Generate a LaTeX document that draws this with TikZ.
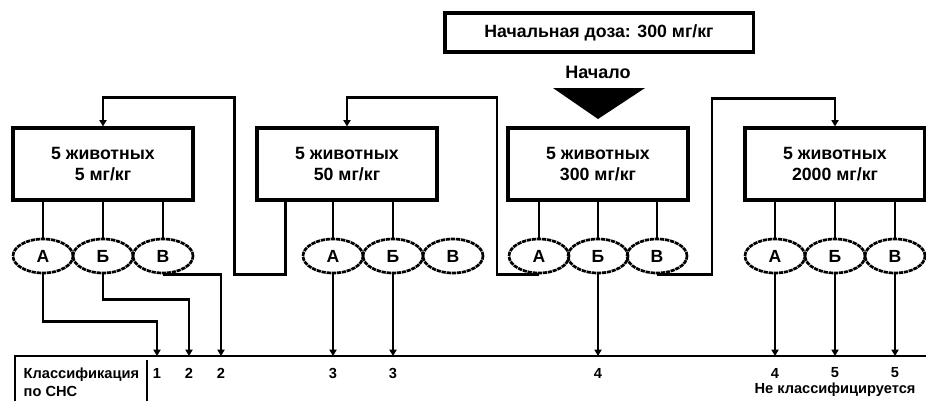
\documentclass[tikz,border=0pt]{standalone}
\usepackage{fontspec}
\setmainfont{Liberation Sans}
\usetikzlibrary{
	shapes.geometric,
	arrows.meta,
	calc
}
\tikzset{
	dosebox/.style={
		draw,
		line width=2.2pt,
		minimum width=4.5cm,
		minimum height=1.8cm,
		align=center,
		font=\bfseries\fontsize{12.6}{15.5}\selectfont
	},
	outcome/.style={
		draw,
		ellipse,
		line width=1.9pt,
		dash pattern=on 3pt off 0.6pt,
		minimum width=1.5cm,
		minimum height=0.85cm,
		inner sep=0pt,
		font=\bfseries\fontsize{12.5}{13}\selectfont
	},
	stalk/.style={
		line width=2.1pt
	},
	flow/.style={
		stalk,
		-{Triangle[length=4.5pt,width=5pt]}
	},
	gradelabel/.style={
		font=\bfseries\fontsize{10.4}{12.8}\selectfont,
		inner sep=1pt
	}
}

\begin{document}
\begin{tikzpicture}[x=0.025cm, y=-0.025cm] %%%% FIXED DOSE SCHEME
	\useasboundingbox (0,0) rectangle (926,401);
	% start
	\node[dosebox, minimum width=7.7cm, minimum height=0.975cm, font=\bfseries\fontsize{12.6}{14}\selectfont] (dose) at (599,32.5) {Начальная доза: 300 мг/кг};
	\node[font=\bfseries\fontsize{12.8}{14}\selectfont] (start) at (598,72) {Начало};
	\fill (553,88) -- (645,88) -- (598,119) -- cycle;
	% dose steps
	\node[dosebox] (d1) at (103,164) {5 животных\\5 мг/кг};
	\node[dosebox] (d2) at (347,164) {5 животных\\50 мг/кг};
	\node[dosebox] (d3) at (598,164) {5 животных\\300 мг/кг};
	\node[dosebox] (d4) at (835,164) {5 животных\\2000 мг/кг};
	\foreach \d/\xa/\xb/\xc in {1/43/103/163, 2/333/393/453, 3/539/598/657, 4/775/835/895} {
		\node[outcome] (o\d-a) at (\xa,256) {А};
		\node[outcome] (o\d-b) at (\xb,256) {Б};
		\node[outcome] (o\d-c) at (\xc,256) {В};
	}
	\foreach \d in {1,3,4} {
		\draw[stalk] (d\d.south -| o\d-a) -- (o\d-a.north);
		\draw[stalk] (d\d.south -| o\d-c) -- (o\d-c.north);
	}
	\foreach \d in {1,4} {
		\draw[stalk] (d\d.south -| o\d-b) -- (o\d-b.north);
	}
	\draw[stalk, line width=1.1pt] (d3.south -| o3-b) -- (o3-b.north);
	\draw[stalk] (d2.south -| o2-a) -- (o2-a.north);
	\draw[stalk] (d2.south -| o2-b) -- (o2-b.north);
	% classification row
	\coordinate (base) at (0,356);
	\draw[stalk] (15,401) |- (926,356);
	\draw[stalk] (147,360) -- (147,401);
	\node[gradelabel, align=left, anchor=west] (ghs) at (22,382) {Классификация\\по СНС};
	\node[gradelabel] (g1) at (157,373) {1};
	\node[gradelabel] (g2) at (189,373) {2};
	\node[gradelabel] (g3) at (221,373) {2};
	\node[gradelabel] (g4) at (333,373) {3};
	\node[gradelabel] (g5) at (393,373) {3};
	\node[gradelabel] (g6) at (598,373) {4};
	\node[gradelabel] (g7) at (775,373) {4};
	\node[gradelabel] (g8) at (835,373) {5};
	\node[gradelabel] (g9) at (895,373) {5};
	\node[gradelabel] (none) at (835,390) {Не классифицируется};
	% results
	\draw[flow] (o1-a.south) -- ++(0,47) -| (g1 |- base);
	\draw[flow] (o1-b.south) -- ++(0,25) -| (g2 |- base);
	\draw[flow] (o1-c.south) -| (g3 |- base);
	\draw[flow] (o2-a.south) -- (g4 |- base);
	\draw[flow] (o2-b.south) -- (g5 |- base);
	\draw[flow] (o3-b.south) -- (g6 |- base);
	\draw[flow] (o4-a.south) -- (g7 |- base);
	\draw[flow] (o4-b.south) -- (g8 |- base);
	\draw[flow] (o4-c.south) -- (g9 |- base);
	% next dose
	\draw[flow] ($(d2.south west)+(30,0)$) -- ++(0,73) -| ++(-51,-177) -| (d1.north);
	\draw[flow] (o3-a.south) -| ++(-42,-177) -| (d2.north);
	\draw[flow] (o3-c.south) -| ++(55,-176) -| (d4.north);
\end{tikzpicture}
\end{document}
